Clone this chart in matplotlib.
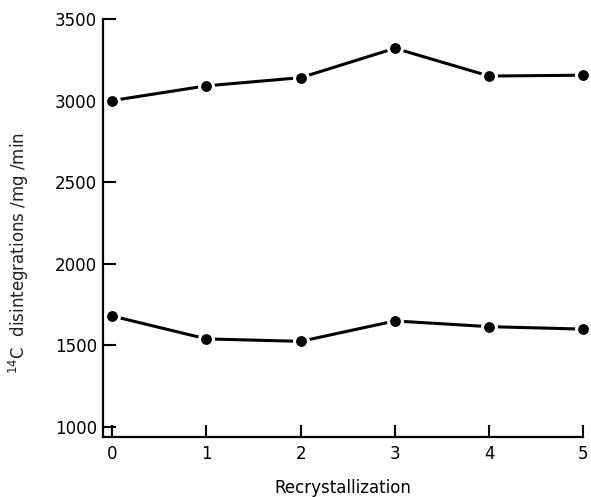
import matplotlib
matplotlib.use("Agg")
import matplotlib.pyplot as plt

recryst = [0, 1, 2, 3, 4, 5]
upper = [3000, 3090, 3140, 3320, 3150, 3155]
lower = [1680, 1540, 1525, 1650, 1615, 1600]
yticks = [1000, 1500, 2000, 2500, 3000, 3500]

plt.rcParams['font.family'] = ['DejaVu Sans']

fig = plt.figure(figsize=(5.91, 4.97), dpi=100)
ax = fig.add_axes([0.174, 0.121, 0.813, 0.841])

for s in (upper, lower):
    ax.plot(recryst, s, color='black', lw=2.2, marker='o', markersize=10,
            markerfacecolor='black', markeredgecolor='white', markeredgewidth=2.2,
            clip_on=False, zorder=3)

ax.set_xlim(-0.1, 5.0)
ax.set_ylim(940, 3500)
ax.set_xticks(recryst)
ax.set_yticks(yticks)
ax.spines['top'].set_visible(False)
ax.spines['right'].set_visible(False)
for sp in ('left', 'bottom'):
    ax.spines[sp].set_linewidth(1.6)
ax.tick_params(axis='both', direction='in', length=9, width=1.5, labelsize=12,
               colors='black')
ax.tick_params(axis='x', pad=6)
ax.tick_params(axis='y', pad=4)

ax.set_xlabel('Recrystallization', fontsize=12)
ax.xaxis.set_label_coords(0.5, -0.102)
ax.set_ylabel(r'$^{14}$C  disintegrations /mg /min', fontsize=12, color='#222222')
ax.yaxis.set_label_coords(-0.150, 0.44)

fig.savefig('out.png', dpi=100)
